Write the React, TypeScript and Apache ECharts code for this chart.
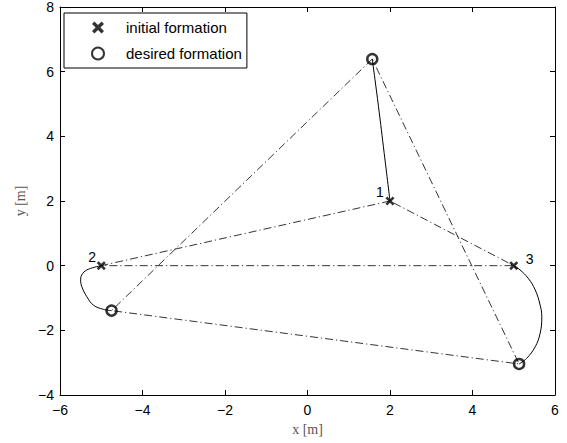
import React, { useEffect, useRef } from "react";
import * as echarts from "echarts";

// ---- data ----
const agents = ["1", "2", "3"];
const initialX = [2, -5, 5];
const initialY = [2, 0, 0];
const desiredX = [1.57, -4.75, 5.13];
const desiredY = [6.39, -1.39, -3.04];

const traj1X = [2, 1.86, 1.72, 1.57];
const traj1Y = [2, 3.47, 4.93, 6.39];
const traj2X = [-5, -5.31, -5.45, -5.5, -5.47, -5.35, -5.19, -4.95, -4.75];
const traj2Y = [0, -0.11, -0.24, -0.44, -0.65, -0.96, -1.22, -1.35, -1.39];
const traj3X = [5, 5.15, 5.35, 5.52, 5.64, 5.68, 5.64, 5.52, 5.31, 5.13];
const traj3Y = [0, -0.13, -0.39, -0.75, -1.22, -1.58, -2.09, -2.51, -2.87, -3.04];

const xTicks = { min: -6, max: 6, interval: 2 };
const yTicks = { min: -4, max: 8, interval: 2 };

const labelOffsets: number[][] = [[-10, -9], [-9, -9], [16, -7]];

const zip = (xs: number[], ys: number[]) => xs.map((x, i) => [x, ys[i]]);
const closed = (xs: number[], ys: number[]) => {
  const p = zip(xs, ys);
  return [...p, p[0]];
};

const XMARK =
  "path://M0,2 L2,0 L5,3 L8,0 L10,2 L7,5 L10,8 L8,10 L5,7 L2,10 L0,8 L3,5 Z";

const FONT = "Liberation Sans, Arial, Helvetica, sans-serif";
const minus = (v: number) => String(v).replace("-", "\u2212");

export default function App() {
  const ref = useRef<HTMLDivElement>(null);
  useEffect(() => {
    document.body.style.margin = "0";
    if (!ref.current) return;
    const chart = echarts.init(ref.current, null, { renderer: "svg" });
    const dashDot = {
      color: "#000",
      width: 0.8,
      type: [8, 3, 1.2, 3] as any,
    };
    const axisCommon = {
      type: "value" as const,
      splitLine: { show: false },
      axisLine: { show: true, onZero: false, lineStyle: { color: "#000", width: 1 } },
      axisTick: { show: true, inside: true, length: 5, lineStyle: { color: "#000" } },
    };
    chart.setOption({
      animation: false,
      backgroundColor: "#fff",
      grid: { left: 60, right: 12, top: 7, bottom: 48, outerBoundsMode: "none" } as any,
      legend: {
        orient: "vertical",
        left: 64,
        top: 13,
        data: ["initial formation", "desired formation"],
        itemWidth: 46,
        itemHeight: 12,
        itemGap: 11,
        padding: [7, 5, 7, 27],
        borderColor: "#000",
        borderWidth: 1,
        borderRadius: 0,
        backgroundColor: "#fff",
        textStyle: { fontSize: 15, color: "#000", fontFamily: FONT },
      },
      xAxis: [
        {
          ...axisCommon,
          ...xTicks,
          position: "bottom",
          name: "x [m]",
          nameLocation: "middle",
          nameGap: 27,
          nameTextStyle: { fontFamily: "Liberation Serif, Times New Roman, serif", fontSize: 14, color: "#555" },
          axisLabel: { color: "#000", fontSize: 14, fontFamily: FONT, margin: 8, formatter: minus },
        },
        {
          ...axisCommon,
          ...xTicks,
          position: "top",
          axisLabel: { show: false },
        },
      ],
      yAxis: [
        {
          ...axisCommon,
          ...yTicks,
          position: "left",
          name: "y [m]",
          nameLocation: "middle",
          nameGap: 28,
          nameTextStyle: { fontFamily: "Liberation Serif, Times New Roman, serif", fontSize: 14, color: "#555" },
          axisLabel: { color: "#000", fontSize: 14, fontFamily: FONT, margin: 6, formatter: minus },
        },
        {
          ...axisCommon,
          ...yTicks,
          position: "right",
          axisLabel: { show: false },
        },
      ],
      series: [
        {
          type: "line",
          data: closed(initialX, initialY),
          showSymbol: false,
          lineStyle: dashDot,
          z: 2,
        },
        {
          type: "line",
          data: closed(desiredX, desiredY),
          showSymbol: false,
          lineStyle: dashDot,
          z: 2,
        },
        ...[zip(traj1X, traj1Y), zip(traj2X, traj2Y), zip(traj3X, traj3Y)].map((d) => ({
          type: "line",
          data: d,
          showSymbol: false,
          smooth: 0.4,
          lineStyle: { color: "#000", width: 1 },
          z: 3,
        })),
        {
          type: "scatter",
          name: "initial formation",
          symbol: XMARK,
          symbolSize: 9,
          itemStyle: { color: "#000" },
          z: 5,
          data: zip(initialX, initialY),
        },
        {
          type: "scatter",
          name: "desired formation",
          symbol: "circle",
          symbolSize: 10,
          itemStyle: { color: "rgba(255,255,255,0)", borderColor: "#000", borderWidth: 2.5 },
          z: 5,
          data: zip(desiredX, desiredY),
        },
      ],
    });
    // agent number labels, placed through the chart's own scales
    const texts = agents.map((name, i) => {
      const [px, py] = chart.convertToPixel({ gridIndex: 0 }, [initialX[i], initialY[i]]) as number[];
      return {
        type: "text",
        x: px + labelOffsets[i][0],
        y: py + labelOffsets[i][1],
        z: 10,
        style: {
          text: name,
          fill: "#000",
          fontSize: 14,
          fontFamily: FONT,
          align: "center",
          verticalAlign: "middle",
        },
      };
    });
    chart.setOption({ graphic: texts });
    return () => chart.dispose();
  }, []);
  return <div ref={ref} style={{ width: 567, height: 443 }} />;
}
